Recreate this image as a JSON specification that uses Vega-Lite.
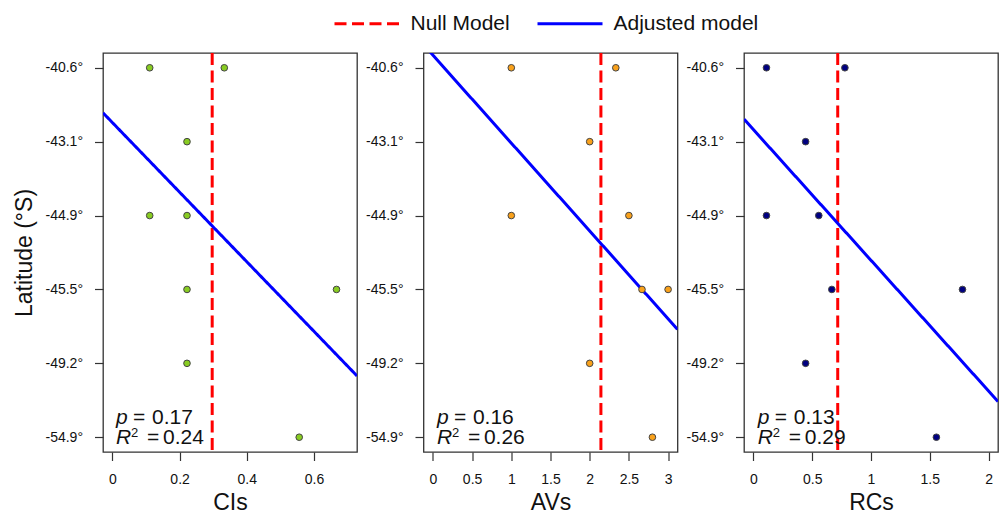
{
  "$schema": "https://vega.github.io/schema/vega-lite/v6.json",
  "padding": {"left": 13, "top": 13, "right": 0, "bottom": 0},
  "spacing": 6.5,
  "datasets": {
    "points": [
      {"panel": "CIs", "row": 1, "lat": "-40.6°", "value": 0.111},
      {"panel": "CIs", "row": 1, "lat": "-40.6°", "value": 0.333},
      {"panel": "CIs", "row": 2, "lat": "-43.1°", "value": 0.222},
      {"panel": "CIs", "row": 3, "lat": "-44.9°", "value": 0.111},
      {"panel": "CIs", "row": 3, "lat": "-44.9°", "value": 0.222},
      {"panel": "CIs", "row": 4, "lat": "-45.5°", "value": 0.222},
      {"panel": "CIs", "row": 4, "lat": "-45.5°", "value": 0.667},
      {"panel": "CIs", "row": 5, "lat": "-49.2°", "value": 0.222},
      {"panel": "CIs", "row": 6, "lat": "-54.9°", "value": 0.556},
      {"panel": "AVs", "row": 1, "lat": "-40.6°", "value": 1.0},
      {"panel": "AVs", "row": 1, "lat": "-40.6°", "value": 2.333},
      {"panel": "AVs", "row": 2, "lat": "-43.1°", "value": 2.0},
      {"panel": "AVs", "row": 3, "lat": "-44.9°", "value": 1.0},
      {"panel": "AVs", "row": 3, "lat": "-44.9°", "value": 2.5},
      {"panel": "AVs", "row": 4, "lat": "-45.5°", "value": 2.667},
      {"panel": "AVs", "row": 4, "lat": "-45.5°", "value": 3.0},
      {"panel": "AVs", "row": 5, "lat": "-49.2°", "value": 2.0},
      {"panel": "AVs", "row": 6, "lat": "-54.9°", "value": 2.8},
      {"panel": "RCs", "row": 1, "lat": "-40.6°", "value": 0.111},
      {"panel": "RCs", "row": 1, "lat": "-40.6°", "value": 0.778},
      {"panel": "RCs", "row": 2, "lat": "-43.1°", "value": 0.444},
      {"panel": "RCs", "row": 3, "lat": "-44.9°", "value": 0.111},
      {"panel": "RCs", "row": 3, "lat": "-44.9°", "value": 0.556},
      {"panel": "RCs", "row": 4, "lat": "-45.5°", "value": 0.667},
      {"panel": "RCs", "row": 4, "lat": "-45.5°", "value": 1.778},
      {"panel": "RCs", "row": 5, "lat": "-49.2°", "value": 0.444},
      {"panel": "RCs", "row": 6, "lat": "-54.9°", "value": 1.556}
    ],
    "nulls": [
      {"panel": "CIs", "model": "Null Model", "value": 0.297},
      {"panel": "AVs", "model": "Null Model", "value": 2.143},
      {"panel": "RCs", "model": "Null Model", "value": 0.717}
    ],
    "fits": [
      {"panel": "CIs", "model": "Adjusted model", "value": -0.028, "row": 1.61},
      {"panel": "CIs", "model": "Adjusted model", "value": 0.728, "row": 5.17},
      {"panel": "AVs", "model": "Adjusted model", "value": -0.12, "row": 0.687},
      {"panel": "AVs", "model": "Adjusted model", "value": 3.12, "row": 4.54},
      {"panel": "RCs", "model": "Adjusted model", "value": -0.08, "row": 1.695},
      {"panel": "RCs", "model": "Adjusted model", "value": 2.08, "row": 5.516}
    ],
    "stats": [
      {"panel": "CIs", "p": 0.17, "r2": 0.24},
      {"panel": "AVs", "p": 0.16, "r2": 0.26},
      {"panel": "RCs", "p": 0.13, "r2": 0.29}
    ]
  },
  "resolve": {
    "scale": {"x": "independent", "y": "independent", "color": "shared", "strokeDash": "shared"},
    "legend": {"color": "shared", "strokeDash": "shared"}
  },
  "hconcat": [
    {
      "width": 254, "height": 399,
      "layer": [
        {
          "data": {"name": "nulls"}, "transform": [{"filter": "datum.panel === 'CIs'"}],
          "mark": {"type": "rule", "strokeWidth": 3},
          "encoding": {
            "x": {"field": "value", "type": "quantitative", "scale": {"domain": [-0.028, 0.728], "nice": false, "zero": false}, "axis": {"values": [0, 0.2, 0.4, 0.6], "labelExpr": "'' + datum.value", "title": "CIs"}},
            "color": {"field": "model", "type": "nominal", "scale": {"domain": ["Null Model", "Adjusted model"], "range": ["#ff0000", "#0000ff"]},
              "legend": {"orient": "none", "legendX": 221, "legendY": -40, "direction": "horizontal", "title": null, "symbolType": "M0,0H10", "symbolSize": 169, "symbolStrokeWidth": 3, "labelFontSize": 21, "labelOffset": 65.5, "columnPadding": 17, "labelColor": "#111", "padding": 0}},
            "strokeDash": {"field": "model", "type": "nominal", "scale": {"domain": ["Null Model", "Adjusted model"], "range": [[12, 5.5], [1, 0]]},
              "legend": {"orient": "none", "legendX": 221, "legendY": -40, "direction": "horizontal", "title": null, "symbolType": "M0,0H10", "symbolSize": 169, "symbolStrokeWidth": 3, "labelFontSize": 21, "labelOffset": 65.5, "columnPadding": 17, "labelColor": "#111", "padding": 0}}
          }
        },
        {
          "data": {"name": "fits"}, "transform": [{"filter": "datum.panel === 'CIs'"}],
          "mark": {"type": "line", "strokeWidth": 3, "clip": true},
          "encoding": {
            "x": {"field": "value", "type": "quantitative"},
            "y": {"field": "row", "type": "quantitative"},
            "color": {"field": "model", "type": "nominal"},
            "strokeDash": {"field": "model", "type": "nominal"}
          }
        },
        {
          "data": {"name": "points"}, "transform": [{"filter": "datum.panel === 'CIs'"}],
          "mark": {"type": "circle", "fill": "#88cc22", "stroke": "#444444", "strokeWidth": 1, "size": 44, "opacity": 1},
          "encoding": {
            "x": {"field": "value", "type": "quantitative"},
            "y": {"field": "row", "type": "quantitative",
              "scale": {"domain": [0.8, 6.2], "reverse": true, "nice": false, "zero": false},
              "axis": {"values": [1, 2, 3, 4, 5, 6], "labelExpr": "['-40.6°','-43.1°','-44.9°','-45.5°','-49.2°','-54.9°'][datum.value-1]", "title": "Latitude (°S)"}}
          }
        },
        {
          "data": {"name": "stats"}, "transform": [{"filter": "datum.panel === 'CIs'"}],
          "mark": {"type": "text", "text": "p", "fontStyle": "italic", "fontSize": 21, "align": "left", "baseline": "alphabetic", "color": "#111"},
          "encoding": {"x": {"datum": 0.011, "type": "quantitative"}, "y": {"datum": 5.818, "type": "quantitative"}}
        },
        {
          "data": {"name": "stats"}, "transform": [{"filter": "datum.panel === 'CIs'"}],
          "mark": {"type": "text", "text": "=", "fontSize": 21, "align": "left", "baseline": "alphabetic", "dx": 17, "color": "#111"},
          "encoding": {"x": {"datum": 0.011, "type": "quantitative"}, "y": {"datum": 5.818, "type": "quantitative"}}
        },
        {
          "data": {"name": "stats"}, "transform": [{"filter": "datum.panel === 'CIs'"}],
          "mark": {"type": "text", "fontSize": 21, "align": "left", "baseline": "alphabetic", "dx": 36, "color": "#111"},
          "encoding": {"x": {"datum": 0.011, "type": "quantitative"}, "y": {"datum": 5.818, "type": "quantitative"}, "text": {"field": "p", "type": "quantitative", "format": ".2f"}}
        },
        {
          "data": {"name": "stats"}, "transform": [{"filter": "datum.panel === 'CIs'"}],
          "mark": {"type": "text", "text": "R", "fontStyle": "italic", "fontSize": 21, "align": "left", "baseline": "alphabetic", "color": "#111"},
          "encoding": {"x": {"datum": 0.011, "type": "quantitative"}, "y": {"datum": 6.089, "type": "quantitative"}}
        },
        {
          "data": {"name": "stats"}, "transform": [{"filter": "datum.panel === 'CIs'"}],
          "mark": {"type": "text", "text": "2", "fontSize": 13, "align": "left", "baseline": "alphabetic", "dx": 15, "dy": -7, "color": "#111"},
          "encoding": {"x": {"datum": 0.011, "type": "quantitative"}, "y": {"datum": 6.089, "type": "quantitative"}}
        },
        {
          "data": {"name": "stats"}, "transform": [{"filter": "datum.panel === 'CIs'"}],
          "mark": {"type": "text", "text": "=", "fontSize": 21, "align": "left", "baseline": "alphabetic", "dx": 31, "color": "#111"},
          "encoding": {"x": {"datum": 0.011, "type": "quantitative"}, "y": {"datum": 6.089, "type": "quantitative"}}
        },
        {
          "data": {"name": "stats"}, "transform": [{"filter": "datum.panel === 'CIs'"}],
          "mark": {"type": "text", "fontSize": 21, "align": "left", "baseline": "alphabetic", "dx": 47, "color": "#111"},
          "encoding": {"x": {"datum": 0.011, "type": "quantitative"}, "y": {"datum": 6.089, "type": "quantitative"}, "text": {"field": "r2", "type": "quantitative", "format": ".2f"}}
        }
      ]
    },
    {
      "width": 254, "height": 399,
      "layer": [
        {
          "data": {"name": "nulls"}, "transform": [{"filter": "datum.panel === 'AVs'"}],
          "mark": {"type": "rule", "strokeWidth": 3},
          "encoding": {
            "x": {"field": "value", "type": "quantitative", "scale": {"domain": [-0.12, 3.12], "nice": false, "zero": false}, "axis": {"values": [0, 0.5, 1, 1.5, 2, 2.5, 3], "labelExpr": "'' + datum.value", "title": "AVs"}},
            "color": {"field": "model", "type": "nominal"},
            "strokeDash": {"field": "model", "type": "nominal"}
          }
        },
        {
          "data": {"name": "fits"}, "transform": [{"filter": "datum.panel === 'AVs'"}],
          "mark": {"type": "line", "strokeWidth": 3, "clip": true},
          "encoding": {
            "x": {"field": "value", "type": "quantitative"},
            "y": {"field": "row", "type": "quantitative"},
            "color": {"field": "model", "type": "nominal"},
            "strokeDash": {"field": "model", "type": "nominal"}
          }
        },
        {
          "data": {"name": "points"}, "transform": [{"filter": "datum.panel === 'AVs'"}],
          "mark": {"type": "circle", "fill": "#f9a11b", "stroke": "#444444", "strokeWidth": 1, "size": 44, "opacity": 1},
          "encoding": {
            "x": {"field": "value", "type": "quantitative"},
            "y": {"field": "row", "type": "quantitative",
              "scale": {"domain": [0.8, 6.2], "reverse": true, "nice": false, "zero": false},
              "axis": {"values": [1, 2, 3, 4, 5, 6], "labelExpr": "['-40.6°','-43.1°','-44.9°','-45.5°','-49.2°','-54.9°'][datum.value-1]", "title": null}}
          }
        },
        {
          "data": {"name": "stats"}, "transform": [{"filter": "datum.panel === 'AVs'"}],
          "mark": {"type": "text", "text": "p", "fontStyle": "italic", "fontSize": 21, "align": "left", "baseline": "alphabetic", "color": "#111"},
          "encoding": {"x": {"datum": 0.051, "type": "quantitative"}, "y": {"datum": 5.818, "type": "quantitative"}}
        },
        {
          "data": {"name": "stats"}, "transform": [{"filter": "datum.panel === 'AVs'"}],
          "mark": {"type": "text", "text": "=", "fontSize": 21, "align": "left", "baseline": "alphabetic", "dx": 17, "color": "#111"},
          "encoding": {"x": {"datum": 0.051, "type": "quantitative"}, "y": {"datum": 5.818, "type": "quantitative"}}
        },
        {
          "data": {"name": "stats"}, "transform": [{"filter": "datum.panel === 'AVs'"}],
          "mark": {"type": "text", "fontSize": 21, "align": "left", "baseline": "alphabetic", "dx": 36, "color": "#111"},
          "encoding": {"x": {"datum": 0.051, "type": "quantitative"}, "y": {"datum": 5.818, "type": "quantitative"}, "text": {"field": "p", "type": "quantitative", "format": ".2f"}}
        },
        {
          "data": {"name": "stats"}, "transform": [{"filter": "datum.panel === 'AVs'"}],
          "mark": {"type": "text", "text": "R", "fontStyle": "italic", "fontSize": 21, "align": "left", "baseline": "alphabetic", "color": "#111"},
          "encoding": {"x": {"datum": 0.051, "type": "quantitative"}, "y": {"datum": 6.089, "type": "quantitative"}}
        },
        {
          "data": {"name": "stats"}, "transform": [{"filter": "datum.panel === 'AVs'"}],
          "mark": {"type": "text", "text": "2", "fontSize": 13, "align": "left", "baseline": "alphabetic", "dx": 15, "dy": -7, "color": "#111"},
          "encoding": {"x": {"datum": 0.051, "type": "quantitative"}, "y": {"datum": 6.089, "type": "quantitative"}}
        },
        {
          "data": {"name": "stats"}, "transform": [{"filter": "datum.panel === 'AVs'"}],
          "mark": {"type": "text", "text": "=", "fontSize": 21, "align": "left", "baseline": "alphabetic", "dx": 31, "color": "#111"},
          "encoding": {"x": {"datum": 0.051, "type": "quantitative"}, "y": {"datum": 6.089, "type": "quantitative"}}
        },
        {
          "data": {"name": "stats"}, "transform": [{"filter": "datum.panel === 'AVs'"}],
          "mark": {"type": "text", "fontSize": 21, "align": "left", "baseline": "alphabetic", "dx": 47, "color": "#111"},
          "encoding": {"x": {"datum": 0.051, "type": "quantitative"}, "y": {"datum": 6.089, "type": "quantitative"}, "text": {"field": "r2", "type": "quantitative", "format": ".2f"}}
        }
      ]
    },
    {
      "width": 254, "height": 399,
      "layer": [
        {
          "data": {"name": "nulls"}, "transform": [{"filter": "datum.panel === 'RCs'"}],
          "mark": {"type": "rule", "strokeWidth": 3},
          "encoding": {
            "x": {"field": "value", "type": "quantitative", "scale": {"domain": [-0.08, 2.08], "nice": false, "zero": false}, "axis": {"values": [0, 0.5, 1, 1.5, 2], "labelExpr": "'' + datum.value", "title": "RCs"}},
            "color": {"field": "model", "type": "nominal"},
            "strokeDash": {"field": "model", "type": "nominal"}
          }
        },
        {
          "data": {"name": "fits"}, "transform": [{"filter": "datum.panel === 'RCs'"}],
          "mark": {"type": "line", "strokeWidth": 3, "clip": true},
          "encoding": {
            "x": {"field": "value", "type": "quantitative"},
            "y": {"field": "row", "type": "quantitative"},
            "color": {"field": "model", "type": "nominal"},
            "strokeDash": {"field": "model", "type": "nominal"}
          }
        },
        {
          "data": {"name": "points"}, "transform": [{"filter": "datum.panel === 'RCs'"}],
          "mark": {"type": "circle", "fill": "#000080", "stroke": "#444444", "strokeWidth": 1, "size": 44, "opacity": 1},
          "encoding": {
            "x": {"field": "value", "type": "quantitative"},
            "y": {"field": "row", "type": "quantitative",
              "scale": {"domain": [0.8, 6.2], "reverse": true, "nice": false, "zero": false},
              "axis": {"values": [1, 2, 3, 4, 5, 6], "labelExpr": "['-40.6°','-43.1°','-44.9°','-45.5°','-49.2°','-54.9°'][datum.value-1]", "title": null}}
          }
        },
        {
          "data": {"name": "stats"}, "transform": [{"filter": "datum.panel === 'RCs'"}],
          "mark": {"type": "text", "text": "p", "fontStyle": "italic", "fontSize": 21, "align": "left", "baseline": "alphabetic", "color": "#111"},
          "encoding": {"x": {"datum": 0.0365, "type": "quantitative"}, "y": {"datum": 5.818, "type": "quantitative"}}
        },
        {
          "data": {"name": "stats"}, "transform": [{"filter": "datum.panel === 'RCs'"}],
          "mark": {"type": "text", "text": "=", "fontSize": 21, "align": "left", "baseline": "alphabetic", "dx": 17, "color": "#111"},
          "encoding": {"x": {"datum": 0.0365, "type": "quantitative"}, "y": {"datum": 5.818, "type": "quantitative"}}
        },
        {
          "data": {"name": "stats"}, "transform": [{"filter": "datum.panel === 'RCs'"}],
          "mark": {"type": "text", "fontSize": 21, "align": "left", "baseline": "alphabetic", "dx": 36, "color": "#111"},
          "encoding": {"x": {"datum": 0.0365, "type": "quantitative"}, "y": {"datum": 5.818, "type": "quantitative"}, "text": {"field": "p", "type": "quantitative", "format": ".2f"}}
        },
        {
          "data": {"name": "stats"}, "transform": [{"filter": "datum.panel === 'RCs'"}],
          "mark": {"type": "text", "text": "R", "fontStyle": "italic", "fontSize": 21, "align": "left", "baseline": "alphabetic", "color": "#111"},
          "encoding": {"x": {"datum": 0.0365, "type": "quantitative"}, "y": {"datum": 6.089, "type": "quantitative"}}
        },
        {
          "data": {"name": "stats"}, "transform": [{"filter": "datum.panel === 'RCs'"}],
          "mark": {"type": "text", "text": "2", "fontSize": 13, "align": "left", "baseline": "alphabetic", "dx": 15, "dy": -7, "color": "#111"},
          "encoding": {"x": {"datum": 0.0365, "type": "quantitative"}, "y": {"datum": 6.089, "type": "quantitative"}}
        },
        {
          "data": {"name": "stats"}, "transform": [{"filter": "datum.panel === 'RCs'"}],
          "mark": {"type": "text", "text": "=", "fontSize": 21, "align": "left", "baseline": "alphabetic", "dx": 31, "color": "#111"},
          "encoding": {"x": {"datum": 0.0365, "type": "quantitative"}, "y": {"datum": 6.089, "type": "quantitative"}}
        },
        {
          "data": {"name": "stats"}, "transform": [{"filter": "datum.panel === 'RCs'"}],
          "mark": {"type": "text", "fontSize": 21, "align": "left", "baseline": "alphabetic", "dx": 47, "color": "#111"},
          "encoding": {"x": {"datum": 0.0365, "type": "quantitative"}, "y": {"datum": 6.089, "type": "quantitative"}, "text": {"field": "r2", "type": "quantitative", "format": ".2f"}}
        }
      ]
    }
  ],
  "config": {
    "font": "Liberation Sans",
    "view": {"stroke": "#333333", "strokeWidth": 1.3},
    "axis": {"domain": false, "grid": false, "ticks": true, "tickSize": 8.5, "tickColor": "#333333", "tickWidth": 1.2,
      "labelFont": "Liberation Sans", "labelFontSize": 14, "labelColor": "#111111", "labelPadding": 12,
      "labelFlush": false, "labelOverlap": false, "labelBound": false,
      "titleFont": "Liberation Sans", "titleFontSize": 23, "titleFontWeight": "normal", "titleColor": "#111111"},
    "axisY": {"titlePadding": 8},
    "axisX": {"titlePadding": 5, "labelAngle": 0},
    "legend": {"labelFont": "Liberation Sans"}
  }
}
